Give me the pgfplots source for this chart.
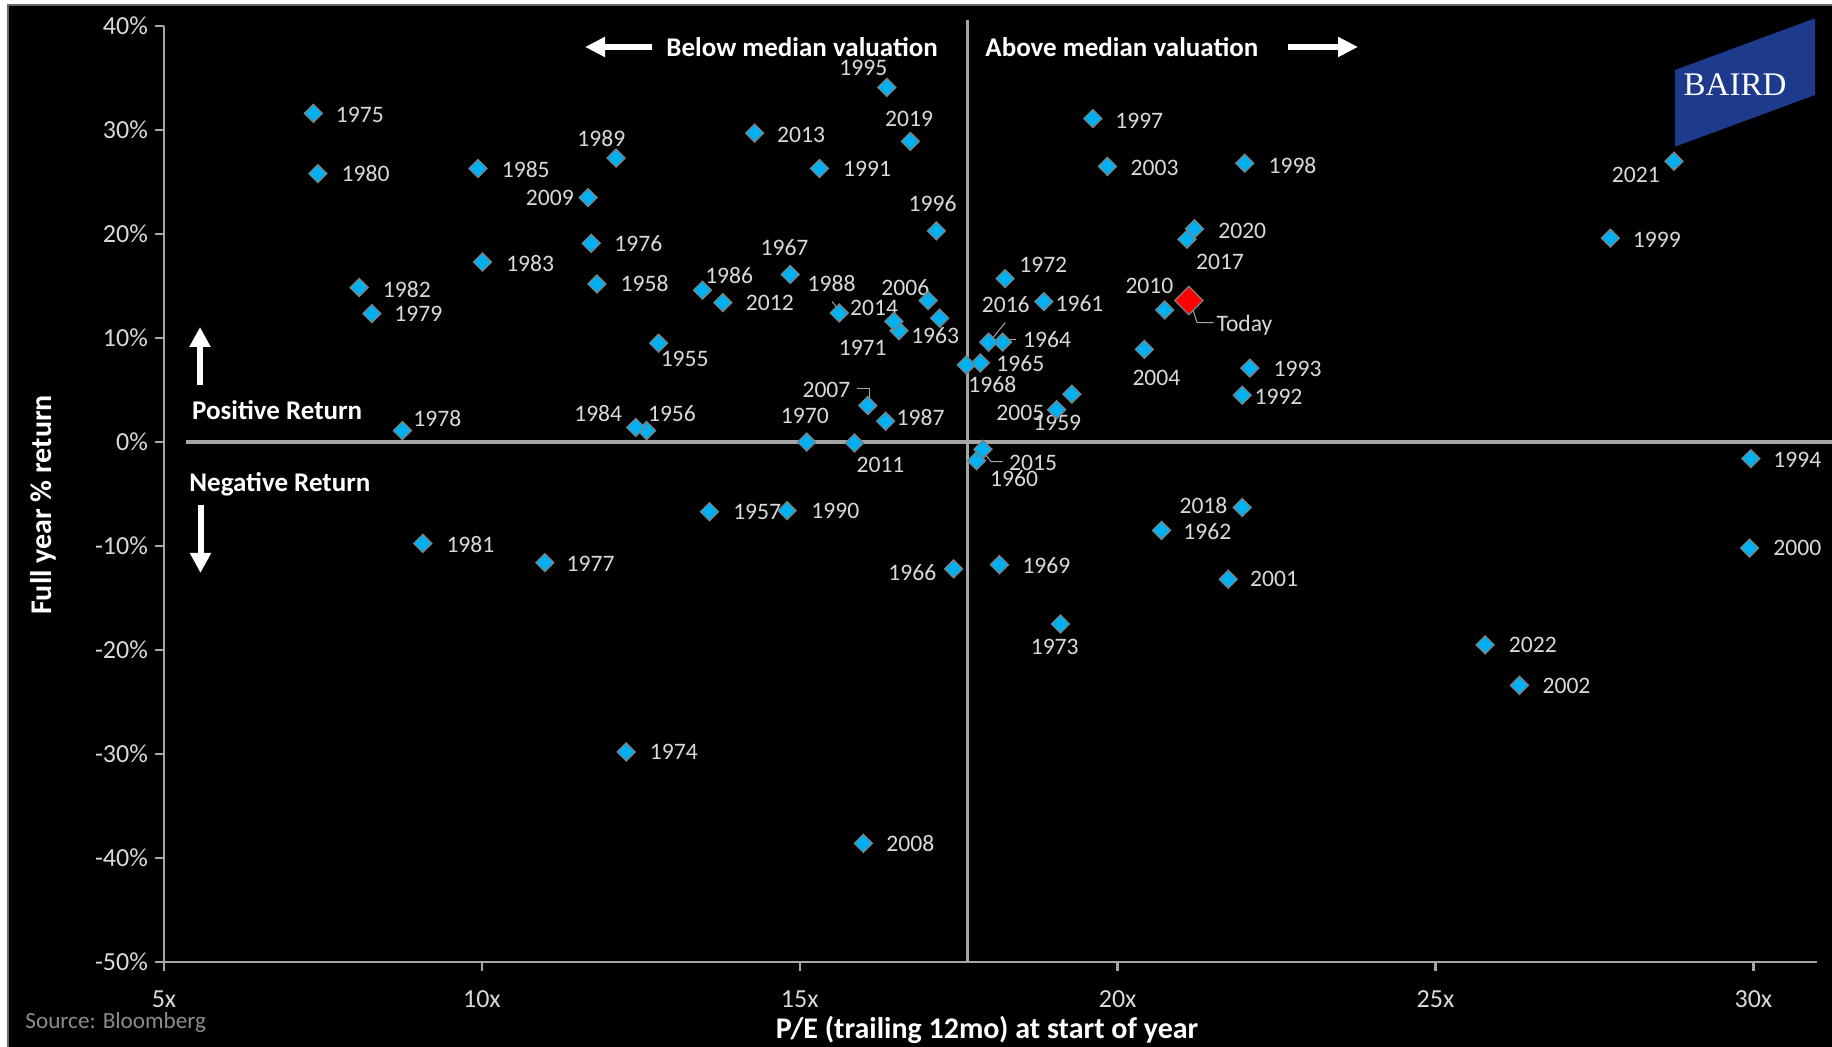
\documentclass[border=0pt]{standalone}
\usepackage{fontspec}
\setmainfont{Carlito}
\newfontfamily\bairdfont{Liberation Serif}
\usepackage{pgfplots}
\pgfplotsset{compat=1.18}
\usepackage{pgfplotstable}
\usetikzlibrary{arrows.meta}
\definecolor{mk}{HTML}{00B0F0}
\definecolor{mkedge}{HTML}{808080}
\definecolor{axgray}{HTML}{A6A6A6}
\definecolor{labgray}{HTML}{D9D9D9}
\definecolor{baird}{HTML}{1E3A8C}
\definecolor{srcgray}{HTML}{8C8C8C}

\pgfplotstableread{
year pe ret
1955 12.78 9.5
1956 12.59 1.1
1957 13.58 -6.7
1958 11.81 15.2
1959 19.28 4.6
1960 17.78 -1.8
1961 18.84 13.5
1962 20.69 -8.5
1963 17.20 11.9
1964 18.19 9.6
1965 17.84 7.6
1966 17.42 -12.2
1967 14.85 16.1
1968 17.62 7.4
1969 18.14 -11.8
1970 15.11 0.0
1971 16.56 10.7
1972 18.23 15.7
1973 19.10 -17.5
1974 12.27 -29.8
1975 7.35 31.6
1976 11.72 19.1
1977 10.99 -11.6
1978 8.75 1.1
1979 8.27 12.35
1980 7.42 25.8
1981 9.07 -9.75
1982 8.07 14.85
1983 10.01 17.3
1984 12.42 1.4
1985 9.94 26.3
1986 13.47 14.6
1987 16.35 2.0
1988 15.62 12.4
1989 12.11 27.3
1990 14.80 -6.6
1991 15.31 26.3
1992 21.96 4.5
1993 22.08 7.1
1994 29.96 -1.6
1995 16.37 34.1
1996 17.15 20.3
1997 19.61 31.1
1998 22.00 26.8
1999 27.75 19.6
2000 29.94 -10.2
2001 21.74 -13.2
2002 26.32 -23.4
2003 19.84 26.5
2004 20.42 8.9
2005 19.04 3.1
2006 17.02 13.6
2007 16.07 3.5
2008 16.00 -38.6
2009 11.67 23.5
2010 20.74 12.7
2011 15.86 -0.1
2012 13.79 13.4
2013 14.29 29.7
2014 16.48 11.6
2015 17.88 -0.7
2016 17.97 9.6
2017 21.09 19.5
2018 21.96 -6.3
2019 16.74 28.9
2020 21.21 20.5
2021 28.75 27.0
2022 25.78 -19.5
}\pedata

\pgfplotstableread{
pe ret
21.12 13.6
}\today

\newcommand{\lab}[3]{\node[inner sep=0pt, text=labgray, font=\fontsize{11.8}{12}\selectfont] at (axis cs:#1,#2) {#3};}
\newcommand{\xlab}[1]{\node[anchor=base, inner sep=0pt, text=labgray, font=\fontsize{13}{13}\selectfont] at (axis cs:#1,-50) [yshift=-22.7pt] {#1x};}

\begin{document}
\begin{tikzpicture}
\path[use as bounding box, fill=white] (0,0) rectangle (916pt,523.5pt);
\fill[black] (4pt,0) rectangle (916pt,521pt);
\draw[black!60, line width=0.6pt] (4pt,0) -- (4pt,521pt) -- (916pt,521pt);
\begin{axis}[
  at={(82pt,42.5pt)}, anchor=south west,
  width=826.5pt, height=468pt, scale only axis,
  xmin=5, xmax=31, ymin=-50, ymax=40,
  axis x line*=bottom, axis y line*=left,
  axis line style={axgray, line width=1.2pt},
  xtick={5,10,...,30}, ytick={-50,-40,...,40},
  xticklabels={},
  tick style={axgray, line width=1.2pt},
  tick align=outside, major tick length=4.5pt,
  /pgf/number format/assume math mode=true,
  yticklabel={\pgfmathprintnumber{\tick}\%},
  ticklabel style={font=\fontsize{13}{13}\selectfont, text=labgray},
  clip=false,
]
\draw[axgray, line width=1.6pt] (axis cs:5.35,0) -- (axis cs:31.25,0);
\draw[axgray, line width=1.6pt] (axis cs:17.64,-50) -- (axis cs:17.64,40.6);
% leader lines
\draw[axgray, line width=0.5pt] (axis cs:15.51,13.49) -- (axis cs:15.65,12.43);
\draw[axgray, line width=0.5pt] (axis cs:15.90,5.16) -- (axis cs:16.09,5.16) -- (axis cs:16.09,4.2);
\draw[axgray, line width=0.5pt] (axis cs:18.23,11.47) -- (axis cs:18.01,9.81);
\draw[axgray, line width=0.5pt] (axis cs:18.23,9.81) -- (axis cs:18.40,9.81);
\draw[axgray, line width=0.5pt] (axis cs:17.88,-0.93) -- (axis cs:18.01,-1.89) -- (axis cs:18.19,-1.89);
\draw[axgray, line width=0.5pt] (axis cs:21.16,13.17) -- (axis cs:21.25,11.47) -- (axis cs:21.51,11.47);

\addplot[only marks, mark=square*, mark size=3.2pt,
  mark options={rotate=45, fill=mk, draw=mkedge, line width=0.6pt}]
  table[x=pe, y=ret] {\pedata};
\addplot[only marks, mark=square*, mark size=5pt,
  mark options={rotate=45, fill=red, draw=mkedge, line width=0.6pt}]
  table[x=pe, y=ret] {\today};

\xlab{5}
\xlab{10}
\xlab{15}
\xlab{20}
\xlab{25}
\xlab{30}

\lab{8.08}{31.44}{1975}
\lab{8.17}{25.77}{1980}
\lab{10.69}{26.2}{1985}
\lab{11.07}{23.43}{2009}
\lab{11.88}{29.2}{1989}
\lab{10.76}{17.2}{1983}
\lab{8.82}{14.68}{1982}
\lab{9.0}{12.28}{1979}
\lab{16.0}{35.93}{1995}
\lab{15.02}{29.52}{2013}
\lab{16.72}{31.03}{2019}
\lab{16.06}{26.22}{1991}
\lab{17.09}{22.88}{1996}
\lab{12.46}{19.1}{1976}
\lab{14.76}{18.72}{1967}
\lab{12.56}{15.19}{1958}
\lab{13.89}{15.96}{1986}
\lab{15.5}{15.19}{1988}
\lab{16.66}{14.87}{2006}
\lab{14.53}{13.33}{2012}
\lab{16.17}{12.86}{2014}
\lab{17.13}{10.19}{1963}
\lab{15.99}{9.07}{1971}
\lab{13.19}{7.98}{1955}
\lab{18.47}{7.57}{1965}
\lab{18.03}{5.48}{1968}
\lab{15.42}{5.0}{2007}
\lab{11.83}{2.69}{1984}
\lab{12.99}{2.69}{1956}
\lab{15.08}{2.5}{1970}
\lab{16.9}{2.37}{1987}
\lab{16.27}{-2.21}{2011}
\lab{14.33}{-6.7}{1957}
\lab{15.56}{-6.6}{1990}
\lab{16.77}{-12.53}{1966}
\lab{13.02}{-29.84}{1974}
\lab{11.71}{-11.67}{1977}
\lab{9.82}{-9.9}{1981}
\lab{9.3}{2.28}{1978}
\lab{18.67}{-1.99}{2015}
\lab{18.37}{-3.49}{1960}
\lab{18.47}{2.82}{2005}
\lab{19.05}{1.86}{1959}
\lab{30.69}{-1.67}{1994}
\lab{30.69}{-10.22}{2000}
\lab{21.35}{-6.15}{2018}
\lab{21.41}{-8.62}{1962}
\lab{18.88}{-11.92}{1969}
\lab{22.46}{-13.2}{2001}
\lab{19.01}{-19.74}{1973}
\lab{26.53}{-19.52}{2022}
\lab{27.06}{-23.46}{2002}
\lab{20.34}{30.9}{1997}
\lab{20.58}{26.38}{2003}
\lab{22.75}{26.57}{1998}
\lab{28.15}{25.67}{2021}
\lab{21.96}{20.32}{2020}
\lab{21.61}{17.34}{2017}
\lab{28.48}{19.42}{1999}
\lab{18.83}{17.02}{1972}
\lab{20.5}{15.0}{2010}
\lab{18.24}{13.17}{2016}
\lab{19.4}{13.33}{1961}
\lab{18.89}{9.81}{1964}
\lab{22.83}{6.99}{1993}
\lab{22.53}{4.36}{1992}
\lab{20.61}{6.12}{2004}
\lab{16.74}{-38.6}{2008}
\node[anchor=west, inner sep=0pt, text=labgray, font=\fontsize{11.8}{12}\selectfont] at (axis cs:21.55,11.25) {Today};
\end{axis}

% annotations
\node[anchor=west, inner sep=0pt, text=white, font=\bfseries\fontsize{13.5}{14}\selectfont] at (333pt,500pt) {Below median valuation};
\draw[white, line width=3pt, -{Triangle[length=10pt, width=9.5pt]}] (326pt,500pt) -- (292.5pt,500pt);
\node[anchor=west, inner sep=0pt, text=white, font=\bfseries\fontsize{13.5}{14}\selectfont] at (492.5pt,500pt) {Above median valuation};
\draw[white, line width=3pt, -{Triangle[length=10pt, width=9.5pt]}] (644pt,500pt) -- (679pt,500pt);
\node[anchor=west, inner sep=0pt, text=white, font=\bfseries\fontsize{13.5}{14}\selectfont] at (95.9pt,318.2pt) {Positive Return};
\draw[white, line width=3pt, -{Triangle[length=10pt, width=10pt]}] (100pt,331pt) -- (100pt,360pt);
\node[anchor=west, inner sep=0pt, text=white, font=\bfseries\fontsize{13.5}{14}\selectfont] at (94.5pt,281.5pt) {Negative Return};
\draw[white, line width=3pt, -{Triangle[length=10pt, width=10pt]}] (100.25pt,271pt) -- (100.25pt,237pt);

\node[rotate=90, anchor=base, inner sep=0pt, text=white, font=\bfseries\fontsize{15}{15}\selectfont] at (25.7pt,271pt) {Full year \% return};
\node[anchor=base, inner sep=0pt, text=white, font=\bfseries\fontsize{15}{15}\selectfont] at (493.5pt,4.35pt) {P/E (trailing 12mo) at start of year};
\node[anchor=base west, inner sep=0pt, text=srcgray, font=\fontsize{11.6}{12}\selectfont] at (12.5pt,9.35pt) {Source: Bloomberg};

% logo
\fill[baird] (837.5pt,488.5pt) -- (907.5pt,514.35pt) -- (907.5pt,476pt) -- (837.5pt,450.15pt) -- cycle;
\node[inner sep=0pt, text=white, font=\bairdfont\fontsize{16.5}{16.5}\selectfont] at (867.5pt,481pt) {BAIRD};
\end{tikzpicture}
\end{document}
